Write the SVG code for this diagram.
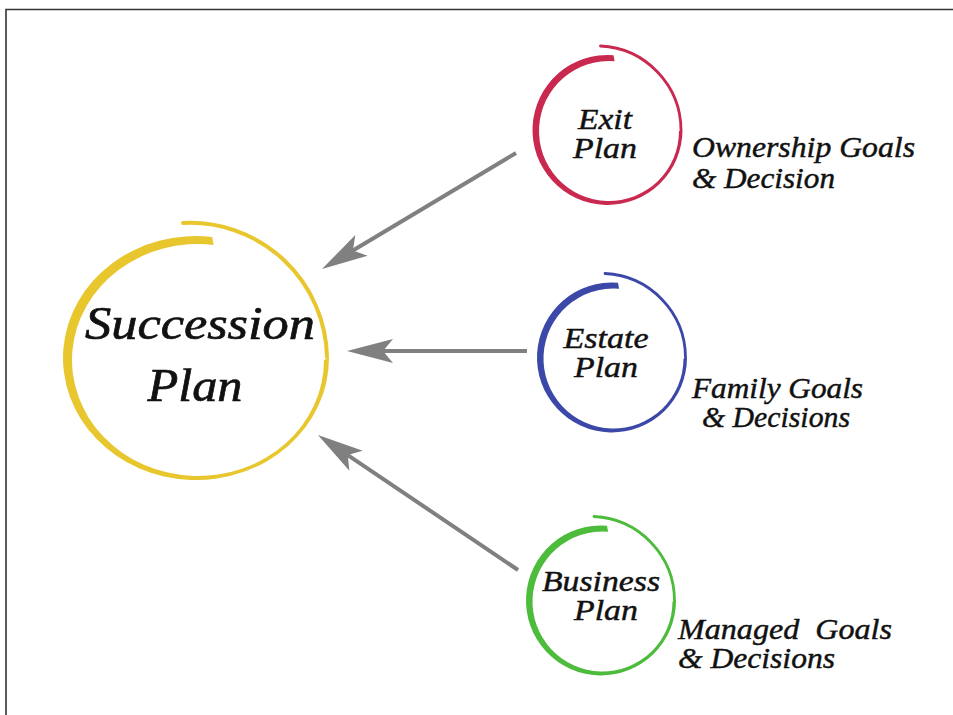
<svg xmlns="http://www.w3.org/2000/svg" xmlns:xlink="http://www.w3.org/1999/xlink" width="953" height="715" viewBox="0 0 953 715">
  <style>
    .lbl { font-family: "Liberation Serif", "Times New Roman", serif; font-style: italic; fill: #111; stroke: #111; }
    .big { font-size: 46px; stroke-width: 0.7; }
    .mid { font-size: 30px; stroke-width: 0.45; }
    .side { font-size: 30px; stroke-width: 0.45; white-space: pre; }
    .conn { stroke: #808080; stroke-width: 4; fill: none; marker-end: url(#head); }
    .frame { stroke: #333; stroke-width: 1.6; fill: none; }
  </style>
  <defs>
    <marker id="head" markerUnits="userSpaceOnUse" viewBox="-50 -15 52 30" refX="-36" refY="0" markerWidth="52" markerHeight="30" orient="auto">
      <path d="M0,0 L-46,-12 L-36,0 L-46,12 Z" fill="#808080"/>
    </marker>
    <!-- brush-stroke ring, radius 75, centred on the origin -->
    <g id="ring">
      <path d="M6,-74.8 A75,75 0 1 0 75,0 L71.5,1 A70,70 0 1 1 7.1,-68.8 Z" fill="currentColor"/>
      <path d="M73.5,0 A84.5,84.5 0 0 0 -7,-84" fill="none" stroke="currentColor" stroke-width="2.8" stroke-linecap="round"/>
    </g>
  </defs>

  <rect width="953" height="715" fill="#fff"/>
  <path class="frame" d="M6,715 V9.5 H953"/>

  <g id="connectors">
    <line class="conn" x1="516" y1="153" x2="352.9" y2="250.5"/>
    <line class="conn" x1="527" y1="351" x2="383" y2="351"/>
    <line class="conn" x1="518" y1="570" x2="347.8" y2="455.1"/>
  </g>

  <g id="succession-plan">
    <path d="M212.2,236.9 A133,122 0 1 0 329,358 L324,360 A126,116 0 1 1 213.5,244.9 Z" fill="#e8c62e"/>
    <path d="M327,357 A137,137 0 0 0 183,223" fill="none" stroke="#e8c62e" stroke-width="4" stroke-linecap="round"/>
    <text class="lbl big" x="200" y="339" text-anchor="middle" textLength="230" lengthAdjust="spacingAndGlyphs">Succession</text>
    <text class="lbl big" x="195" y="401" text-anchor="middle" textLength="95" lengthAdjust="spacingAndGlyphs">Plan</text>
  </g>

  <g id="exit-plan">
    <use xlink:href="#ring" href="#ring" transform="translate(607.5,130)" style="color:#c9284f"/>
    <text class="lbl mid" x="605" y="129" text-anchor="middle" textLength="54" lengthAdjust="spacingAndGlyphs">Exit</text>
    <text class="lbl mid" x="605" y="158" text-anchor="middle" textLength="64" lengthAdjust="spacingAndGlyphs">Plan</text>
    <text class="lbl side" x="692" y="157" textLength="223" lengthAdjust="spacingAndGlyphs">Ownership Goals</text>
    <text class="lbl side" x="692" y="188" textLength="143" lengthAdjust="spacingAndGlyphs">&amp; Decision</text>
  </g>

  <g id="estate-plan">
    <use xlink:href="#ring" href="#ring" transform="translate(612,357.5)" style="color:#3b48a8"/>
    <text class="lbl mid" x="606" y="348" text-anchor="middle" textLength="85" lengthAdjust="spacingAndGlyphs">Estate</text>
    <text class="lbl mid" x="606" y="377" text-anchor="middle" textLength="64" lengthAdjust="spacingAndGlyphs">Plan</text>
    <text class="lbl side" x="692" y="398" textLength="171" lengthAdjust="spacingAndGlyphs">Family Goals</text>
    <text class="lbl side" x="702" y="427" textLength="148" lengthAdjust="spacingAndGlyphs">&amp; Decisions</text>
  </g>

  <g id="business-plan">
    <use xlink:href="#ring" href="#ring" transform="translate(601,600.5)" style="color:#4dbb3b"/>
    <text class="lbl mid" x="601" y="591" text-anchor="middle" textLength="118" lengthAdjust="spacingAndGlyphs">Business</text>
    <text class="lbl mid" x="606" y="620" text-anchor="middle" textLength="64" lengthAdjust="spacingAndGlyphs">Plan</text>
    <text class="lbl side" x="678" y="639" xml:space="preserve" textLength="214" lengthAdjust="spacingAndGlyphs">Managed  Goals</text>
    <text class="lbl side" x="678" y="668" textLength="157" lengthAdjust="spacingAndGlyphs">&amp; Decisions</text>
  </g>
</svg>
